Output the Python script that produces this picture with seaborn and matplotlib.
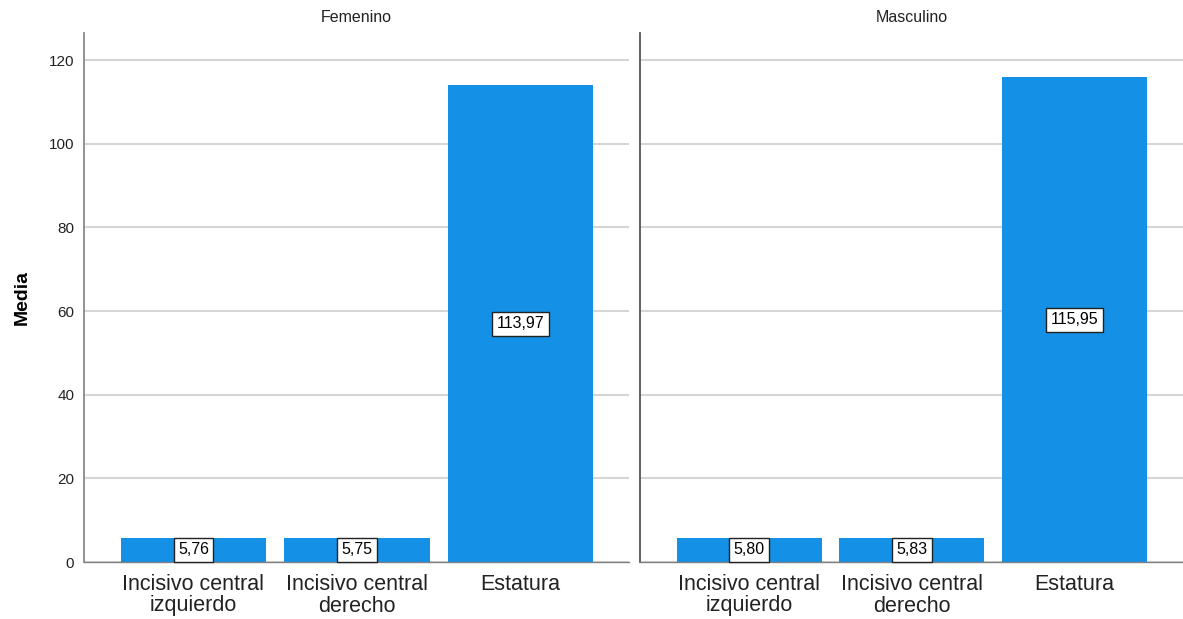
import matplotlib
matplotlib.use("Agg")
import matplotlib.pyplot as plt
import seaborn as sns
import pandas as pd

# Mean values per sex and measurement
sexos = ["Femenino", "Masculino"]
variables = ["Incisivo central\nizquierdo", "Incisivo central\nderecho", "Estatura"]
media_femenino = [5.76, 5.75, 113.97]
media_masculino = [5.80, 5.83, 115.95]
yticks = [0, 20, 40, 60, 80, 100, 120]

df = pd.DataFrame({
    "sexo": [sexos[0]] * 3 + [sexos[1]] * 3,
    "variable": variables * 2,
    "media": media_femenino + media_masculino,
})

sns.set_theme(style="white")
plt.rcParams["font.family"] = ["Liberation Sans", "DejaVu Sans"]

W, H = 1183, 619
fig = plt.figure(figsize=(W / 100, H / 100), dpi=100)

bar_color = "#1490E6"
y_top = 126.5

panels = [
    (84, 629, "#8a8a8a"),
    (640, 1183, "#555555"),
]

for i, (sexo, (x0, x1, spine_col)) in enumerate(zip(sexos, panels)):
    ax = fig.add_axes([x0 / W, (H - 562) / H, (x1 - x0) / W, (562 - 33) / H])
    sub = df[df["sexo"] == sexo]
    sns.barplot(data=sub, x="variable", y="media", order=variables,
                color=bar_color, saturation=1, width=0.89, ax=ax,
                edgecolor="none", errorbar=None, zorder=2)
    ax.set_xlim(-0.67, 2.665)
    ax.set_ylim(0, y_top)
    ax.set_yticks(yticks)
    ax.yaxis.grid(True, color="#d6d6d6", linewidth=1.5, zorder=0)
    ax.set_axisbelow(True)
    for s in ["top", "right"]:
        ax.spines[s].set_visible(False)
    ax.spines["left"].set_color(spine_col)
    ax.spines["left"].set_linewidth(1.3)
    ax.spines["bottom"].set_color("#808080")
    ax.spines["bottom"].set_linewidth(1.0)
    ax.tick_params(axis="both", length=0)
    ax.tick_params(axis="x", labelsize=15.5, pad=9, colors="#222222")
    for lbl in ax.get_xticklabels():
        lbl.set_linespacing(1.0)
    if i == 0:
        ax.tick_params(axis="y", labelsize=11, pad=7, colors="#222222")
        ax.set_ylabel("Media", fontsize=14, fontweight="bold", labelpad=13,
                      color="black")
    else:
        ax.set_yticklabels([])
        ax.set_ylabel("")
    ax.set_xlabel("")
    ax.set_title(sexo, fontsize=11.5, pad=8, color="#222222")

    # value labels centered inside each bar
    for j, v in enumerate(sub["media"].tolist()):
        ax.text(j, v / 2, f"{v:.2f}".replace(".", ","), ha="center",
                va="center", fontsize=11.5, color="black", zorder=5,
                bbox=dict(boxstyle="square,pad=0.28", facecolor="white",
                          edgecolor="#222222", linewidth=1.0))

fig.savefig("out.png", dpi=100)
